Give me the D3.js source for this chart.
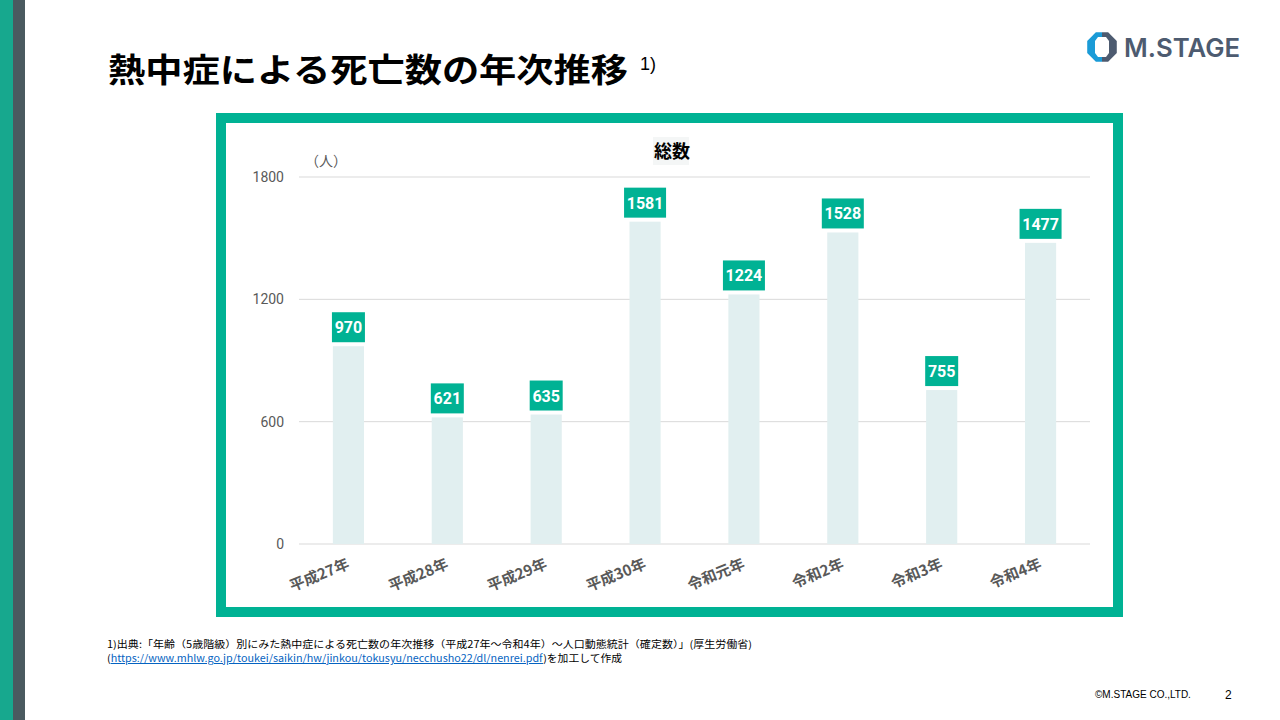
<!DOCTYPE html>
<html><head><meta charset="utf-8">
<script src="https://cdn.jsdelivr.net/npm/d3@7"></script>
<style>
html,body{margin:0;padding:0;background:#fff;}
svg{display:block;}
</style></head>
<body>
<svg id="c" width="1280" height="720"></svg>
<script>
const categories = ["平成27年","平成28年","平成29年","平成30年","令和元年","令和2年","令和3年","令和4年"];
const values = [970, 621, 635, 1581, 1224, 1528, 755, 1477];
const yTicks = [0, 600, 1200, 1800];

const svg = d3.select("#c");
const teal = "#00b294";
const jp = "'Noto Sans CJK JP','Noto Sans',sans-serif";

// left stripes
svg.append("rect").attr("x",0).attr("y",0).attr("width",13).attr("height",720).attr("fill","#17a88e");
svg.append("rect").attr("x",13).attr("y",0).attr("width",12).attr("height",720).attr("fill","#4a5a60");

// title
svg.append("text").attr("x",108).attr("y",82).attr("font-family",jp).attr("font-weight",700)
  .attr("font-size",33).attr("fill","#000").attr("textLength",520).attr("lengthAdjust","spacingAndGlyphs")
  .text("熱中症による死亡数の年次推移");
svg.append("text").attr("x",640).attr("y",70).attr("font-family","'Liberation Sans',sans-serif")
  .attr("font-size",18).text("1)");

// logo
const lg = svg.append("g").attr("transform","translate(1102,47)");
const oct = (r)=>d3.range(8).map(i=>{const a=Math.PI/8+i*Math.PI/4;return [r*Math.cos(a),r*Math.sin(a)];});
lg.append("clipPath").attr("id","lclip").append("rect").attr("x",-20).attr("y",-20).attr("width",20).attr("height",40);
lg.append("clipPath").attr("id","rclip").append("rect").attr("x",0).attr("y",-20).attr("width",20).attr("height",40);
lg.append("polygon").attr("points",oct(16).map(p=>p.join(",")).join(" ")).attr("fill","#1a9bd7").attr("clip-path","url(#lclip)");
lg.append("polygon").attr("points",oct(16).map(p=>p.join(",")).join(" ")).attr("fill","#4d5b70").attr("clip-path","url(#rclip)");
lg.append("polygon").attr("points",[[-4,-10],[4,-10],[7,-6],[7,6],[4,10],[-4,10],[-7,6],[-7,-6]].map(p=>p.join(",")).join(" ")).attr("fill","#fff");
svg.append("text").attr("x",1124).attr("y",57).attr("font-family","'Inter','Noto Sans',sans-serif")
  .attr("font-weight",600).attr("font-size",26).attr("fill","#4d5b70").attr("textLength",116)
  .attr("lengthAdjust","spacingAndGlyphs").text("M.STAGE");

// frame
svg.append("rect").attr("x",221).attr("y",118).attr("width",897).attr("height",494)
  .attr("fill","#fff").attr("stroke",teal).attr("stroke-width",10);

// chart
const x = d3.scaleBand().domain(categories).range([299,1090]).paddingInner(0.685).paddingOuter(0.3425);
const y = d3.scaleLinear().domain([0,1800]).range([544,177]);

// gridlines
svg.append("g").selectAll("line").data(yTicks).join("line")
  .attr("x1",299).attr("x2",1090).attr("y1",d=>y(d)).attr("y2",d=>y(d))
  .attr("stroke","#d9d9d9").attr("stroke-width",1);

// y axis labels
const yAxis = d3.axisLeft(y).tickValues(yTicks).tickSize(0).tickPadding(15).tickFormat(d3.format("d"));
const ya = svg.append("g").attr("transform","translate(299,0)").call(yAxis);
ya.select(".domain").remove();
ya.selectAll("text").attr("font-family","'Roboto','Noto Sans',sans-serif").attr("font-size",14).attr("fill","#595959");

svg.append("text").attr("x",305).attr("y",166).attr("font-family",jp).attr("font-size",14).attr("fill","#595959").text("（人）");

// chart title
svg.append("rect").attr("x",653).attr("y",137).attr("width",36).attr("height",28).attr("fill","#f4f6f6");
svg.append("text").attr("x",672).attr("y",158).attr("text-anchor","middle").attr("font-family",jp)
  .attr("font-weight",700).attr("font-size",18).attr("fill","#000").text("総数");

// bars
svg.append("g").selectAll("rect").data(values).join("rect")
  .attr("x",(d,i)=>x(categories[i])).attr("width",x.bandwidth())
  .attr("y",d=>y(d)).attr("height",d=>y(0)-y(d)).attr("fill","#e1eff0");

// labels
const lbl = svg.append("g").selectAll("g").data(values).join("g")
  .attr("transform",(d,i)=>`translate(${x(categories[i])+x.bandwidth()/2},${y(d)-4})`);
lbl.append("rect").attr("x",d=>-(String(d).length*9+6)/2).attr("y",-30)
  .attr("width",d=>String(d).length*9+6).attr("height",30).attr("fill",teal);
lbl.append("text").attr("y",-9).attr("text-anchor","middle").attr("font-family","'Roboto','Noto Sans',sans-serif")
  .attr("font-weight",700).attr("font-size",16).attr("fill","#fff").text(d=>d);

// x axis labels
svg.append("g").selectAll("text").data(categories).join("text")
  .attr("transform",d=>`translate(${x(d)+x.bandwidth()/2+2},568) rotate(-22)`)
  .attr("text-anchor","end").attr("font-family",jp).attr("font-weight",700)
  .attr("font-size",15).attr("fill","#595959").text(d=>d);

// footnote
svg.append("text").attr("x",107).attr("y",648).attr("font-family",jp).attr("font-size",10).attr("fill","#000")
  .attr("textLength",645).attr("lengthAdjust","spacingAndGlyphs")
  .text("1)出典:「年齢（5歳階級）別にみた熱中症による死亡数の年次推移（平成27年～令和4年）～人口動態統計（確定数）」(厚生労働省)");
const f2 = svg.append("text").attr("x",107).attr("y",662).attr("font-family",jp).attr("font-size",10).attr("fill","#000")
  .attr("textLength",515).attr("lengthAdjust","spacingAndGlyphs");
f2.append("tspan").text("(");
f2.append("tspan").attr("fill","#0563c1").attr("text-decoration","underline").text("https://www.mhlw.go.jp/toukei/saikin/hw/jinkou/tokusyu/necchusho22/dl/nenrei.pdf");
f2.append("tspan").text(")を加工して作成");

// copyright
svg.append("text").attr("x",1095).attr("y",698).attr("font-family","'Liberation Sans',sans-serif").attr("font-size",10).attr("fill","#000").text("©M.STAGE CO.,LTD.");
svg.append("text").attr("x",1225).attr("y",699).attr("font-family","'Liberation Sans',sans-serif").attr("font-size",12).attr("fill","#000").text("2");
</script>
</body></html>
